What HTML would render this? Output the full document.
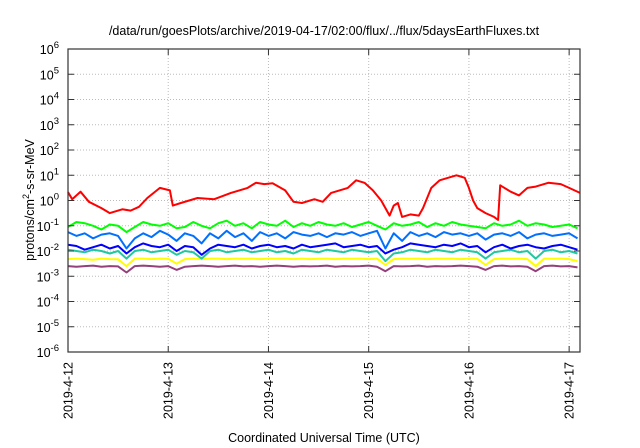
<!DOCTYPE html>
<html><head><meta charset="utf-8"><style>
html,body{margin:0;padding:0;background:#fff;}
svg{display:block;font-family:"Liberation Sans",sans-serif;}
</style></head><body>
<svg id="chart" width="640" height="448" viewBox="0 0 640 448">
<text x="324" y="35" font-size="12.5" text-anchor="middle" fill="#000">/data/run/goesPlots/archive/2019-04-17/02:00/flux/../flux/5daysEarthFluxes.txt</text>
<g id="grid"></g>
<g id="series"></g>
<g id="axes"></g>
<text transform="translate(34,200) rotate(-90)" font-size="12.5" text-anchor="middle">protons/cm<tspan dy="-5" font-size="9">2</tspan><tspan dy="5">-s-sr-MeV</tspan></text>
<text x="324" y="442" font-size="12.5" text-anchor="middle">Coordinated Universal Time (UTC)</text>
</svg>
<script>
const yTickExps=[-6,-5,-4,-3,-2,-1,0,1,2,3,4,5,6];
const xTickLabels=["2019-4-12","2019-4-13","2019-4-14","2019-4-15","2019-4-16","2019-4-17"];
const redHours=[0,1,3,5,8,10,13,15,17,19,22,24.4,25.1,27,31,35,39,43,45,47,49,52,54,56,59,61,63,67,69,71,73,75,77,78,79,80,82,84,85,87,89,91,93,94,95,96,97,98,100,102,103,103.5,106,108,110,112,115,118,120,122.6];
const redLog=[0.33,0.05,0.35,-0.05,-0.3,-0.5,-0.35,-0.4,-0.25,0.1,0.5,0.4,-0.2,-0.1,0.1,0.05,0.3,0.5,0.7,0.65,0.68,0.4,-0.05,-0.1,0.05,-0.05,0.3,0.5,0.8,0.7,0.4,0.0,-0.6,-0.2,-0.1,-0.65,-0.55,-0.6,-0.3,0.5,0.8,0.9,1.0,0.95,0.9,0.5,0.0,-0.3,-0.5,-0.65,-0.77,0.6,0.35,0.2,0.5,0.55,0.7,0.65,0.5,0.3];
const noisyHours=[0,2,4,6,8,10,12,14,16,18,20,22,24,26,28,30,32,34,36,38,40,42,44,46,48,50,52,54,56,58,60,62,64,66,68,70,72,74,76,78,80,82,84,86,88,90,92,94,96,98,100,102,104,106,108,110,112,114,116,118,120,122];
const greenLog=[-1.05,-0.85,-0.9,-1.0,-1.15,-0.95,-1.0,-1.25,-1.05,-0.85,-0.95,-1.0,-0.9,-1.1,-1.05,-0.85,-1.0,-1.1,-0.9,-0.8,-1.0,-0.9,-1.1,-0.85,-0.95,-1.0,-0.8,-1.05,-0.9,-1.0,-0.85,-0.95,-1.0,-0.9,-1.05,-0.95,-0.85,-1.0,-1.15,-0.9,-1.0,-0.95,-0.85,-1.05,-0.9,-1.0,-0.85,-0.95,-1.0,-1.05,-1.1,-0.9,-1.0,-0.95,-0.8,-1.0,-0.9,-0.95,-1.05,-1.0,-0.95,-1.1];
const lightBlueLog=[-1.25,-1.4,-1.3,-1.5,-1.35,-1.3,-1.4,-1.9,-1.5,-1.3,-1.45,-1.2,-1.35,-1.6,-1.3,-1.4,-1.7,-1.3,-1.5,-1.2,-1.45,-1.3,-1.6,-1.25,-1.4,-1.3,-1.5,-1.25,-1.35,-1.4,-1.3,-1.45,-1.3,-1.35,-1.25,-1.4,-1.3,-1.2,-1.9,-1.3,-1.6,-1.25,-1.4,-1.3,-1.45,-1.25,-1.35,-1.3,-1.4,-1.3,-1.55,-1.35,-1.3,-1.4,-1.25,-1.5,-1.35,-1.3,-1.4,-1.35,-1.3,-1.5];
const blueLog=[-1.75,-1.8,-1.95,-1.85,-1.75,-1.9,-1.8,-2.1,-1.85,-1.7,-1.8,-1.85,-1.75,-2.0,-1.8,-1.85,-2.15,-1.9,-1.75,-1.8,-1.85,-1.75,-1.9,-1.8,-1.75,-1.85,-1.8,-1.9,-1.75,-1.85,-1.8,-1.75,-1.7,-1.85,-1.8,-1.75,-1.85,-1.8,-2.1,-1.95,-1.85,-1.7,-1.75,-1.8,-1.85,-1.75,-1.8,-1.7,-1.85,-1.8,-2.05,-1.85,-1.75,-1.9,-1.8,-1.75,-1.85,-1.9,-1.8,-1.75,-1.85,-1.95];
const tealLog=[-1.95,-2.0,-2.05,-1.95,-2.0,-2.1,-2.0,-2.3,-2.0,-1.95,-2.05,-2.0,-1.95,-2.15,-2.0,-2.05,-2.3,-2.0,-1.95,-2.05,-2.0,-1.95,-2.05,-2.0,-1.95,-2.05,-2.0,-2.1,-1.95,-2.0,-2.05,-1.95,-2.0,-2.05,-1.95,-2.0,-2.05,-2.0,-2.4,-2.1,-2.05,-1.95,-2.0,-2.05,-1.95,-2.0,-2.05,-1.95,-2.0,-2.05,-2.3,-2.05,-2.0,-1.95,-2.05,-2.0,-2.3,-2.0,-1.95,-2.05,-2.0,-2.1];
const yellowLog=[-2.32,-2.3,-2.32,-2.35,-2.3,-2.32,-2.33,-2.6,-2.3,-2.3,-2.32,-2.3,-2.31,-2.5,-2.32,-2.3,-2.32,-2.3,-2.3,-2.32,-2.3,-2.31,-2.3,-2.32,-2.3,-2.31,-2.3,-2.32,-2.3,-2.32,-2.31,-2.3,-2.32,-2.3,-2.31,-2.3,-2.32,-2.3,-2.55,-2.32,-2.3,-2.31,-2.3,-2.32,-2.3,-2.31,-2.3,-2.32,-2.3,-2.31,-2.55,-2.32,-2.3,-2.31,-2.3,-2.32,-2.6,-2.3,-2.31,-2.3,-2.32,-2.4];
const purpleLog=[-2.6,-2.62,-2.6,-2.58,-2.62,-2.6,-2.61,-2.85,-2.6,-2.58,-2.6,-2.62,-2.6,-2.75,-2.62,-2.6,-2.58,-2.6,-2.62,-2.6,-2.58,-2.61,-2.6,-2.62,-2.6,-2.58,-2.6,-2.62,-2.6,-2.61,-2.6,-2.58,-2.62,-2.6,-2.61,-2.6,-2.58,-2.62,-2.8,-2.6,-2.61,-2.6,-2.58,-2.62,-2.6,-2.61,-2.6,-2.58,-2.6,-2.62,-2.75,-2.6,-2.58,-2.61,-2.6,-2.62,-2.8,-2.6,-2.58,-2.61,-2.6,-2.65];

const L=68,R=580,T=49,B=352,H0=0,H1=122.6;
const xs=h=>L+(h-H0)/(H1-H0)*(R-L);
const ys=e=>T+(6-e)/12*(B-T);
const NS="http://www.w3.org/2000/svg";
function mk(tag,attrs,parent){const el=document.createElementNS(NS,tag);for(const k in attrs)el.setAttribute(k,attrs[k]);parent.appendChild(el);return el;}
const grid=document.getElementById('grid'),axes=document.getElementById('axes'),series=document.getElementById('series');
yTickExps.forEach(e=>{
  const y=ys(e);
  if(e>-6&&e<6){const g=mk('line',{x1:L,x2:R,y1:y,y2:y,stroke:'#bbb','stroke-width':1,'stroke-dasharray':'1,2'},grid);
  
  }
  const t1=mk('line',{x1:L,x2:L+6,y1:y,y2:y,stroke:'#333'},axes);
  
  
  const t2=mk('line',{x1:R-6,x2:R,y1:y,y2:y,stroke:'#333'},axes);
  
  
  const tx=mk('text',{x:L-9,y:y+5,'font-size':12.5,'text-anchor':'end'},axes);
  
  
  tx.innerHTML='10<tspan dy="-6" font-size="9.5">'+e+'</tspan>';
});
xTickLabels.forEach((lab,i)=>{
  const x=xs(i*24);
  if(i>0){const g=mk('line',{x1:x,x2:x,y1:T,y2:B,stroke:'#bbb','stroke-width':1,'stroke-dasharray':'1,2'},grid);
  
  }
  const t1=mk('line',{x1:x,x2:x,y1:B,y2:B-6,stroke:'#333'},axes);
  
  
  const t2=mk('line',{x1:x,x2:x,y1:T,y2:T+6,stroke:'#333'},axes);
  
  
  const tx=mk('text',{transform:`translate(${x+4.5},362) rotate(-90)`,'font-size':12.5,'text-anchor':'end'},axes);
  
  
  tx.textContent=lab;
});
const frame=mk('rect',{x:L,y:T,width:R-L,height:B-T,fill:'none',stroke:'#333','stroke-width':1.2},axes);


function line(hours,vals,color,name){
  const d=vals.map((v,i)=>(i?'L':'M')+xs(hours[i]).toFixed(1)+','+ys(v).toFixed(1)).join('');
  const p=mk('path',{d:d,fill:'none',stroke:color,'stroke-width':2,'stroke-linejoin':'round'},series);
  
  
}
line(noisyHours,purpleLog,'#94407a','series-purple');
line(noisyHours,yellowLog,'#ffff00','series-yellow');
line(noisyHours,tealLog,'#20c8a0','series-teal');
line(noisyHours,blueLog,'#0000ff','series-blue');
line(noisyHours,lightBlueLog,'#0070ff','series-light-blue');
line(noisyHours,greenLog,'#00ff00','series-green');
line(redHours,redLog,'#ff0000','series-red');
</script>
</body></html>
